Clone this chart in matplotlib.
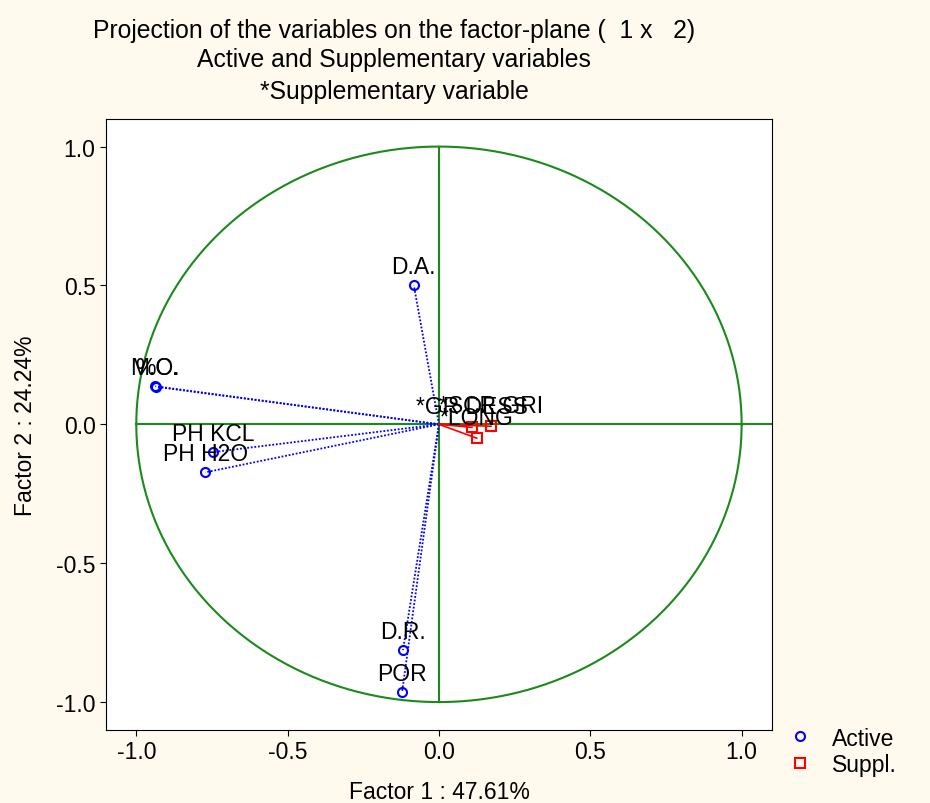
import matplotlib.pyplot as plt
import numpy as np

plt.rcParams['font.family'] = ['Liberation Sans', 'DejaVu Sans']

# active variables (factor 1, factor 2)
act_names = ['D.A.', 'M.O.', '%C.', 'PH KCL', 'PH H2O', 'D.R.', 'POR']
act_f1 = [-0.083, -0.937, -0.934, -0.746, -0.772, -0.119, -0.122]
act_f2 = [0.500, 0.137, 0.135, -0.100, -0.173, -0.813, -0.965]

# supplementary variables
sup_names = ['*GR DESS', '*SCR GRI', '*LONG']
sup_f1 = [0.109, 0.172, 0.125]
sup_f2 = [-0.011, -0.007, -0.050]

fig = plt.figure(figsize=(9.3, 8.04), dpi=100, facecolor='#fff9ee')
ax = fig.add_axes([0.114, 0.091, 0.716, 0.760])
ax.set_facecolor('white')

# unit circle and axes through origin
t = np.linspace(0, 2 * np.pi, 400)
ax.plot(np.cos(t), np.sin(t), color='#1a8a1a', lw=1.5, zorder=1)
ax.plot([-1, 1.1], [0, 0], color='#1a8a1a', lw=1.5, zorder=1)
ax.plot([0, 0], [-1, 1], color='#1a8a1a', lw=1.5, zorder=1)

for name, x, y in zip(act_names, act_f1, act_f2):
    ax.plot([0, x], [0, y], color='blue', lw=1.3, ls=(0, (1, 1)), zorder=2)
    ax.text(x, y + 0.068, name, ha='center', va='center', fontsize=16.5, zorder=4)
ax.plot(act_f1, act_f2, 'o', ms=6.5, mfc='none', mec='blue', mew=1.5,
        ls='none', zorder=3, label='Active')

for name, x, y in zip(sup_names, sup_f1, sup_f2):
    ax.plot([0, x], [0, y], color='red', lw=1.2, zorder=2)
    ax.text(x, y + 0.075, name, ha='center', va='center', fontsize=16.5, zorder=4)
ax.plot(sup_f1, sup_f2, 's', ms=7.5, mfc='none', mec='red', mew=1.5,
        ls='none', zorder=3, label='Suppl.')

ax.set_xlim(-1.1, 1.1)
ax.set_ylim(-1.1, 1.1)
ax.set_xticks([-1.0, -0.5, 0.0, 0.5, 1.0])
ax.set_yticks([-1.0, -0.5, 0.0, 0.5, 1.0])
ax.set_xticklabels(['-1.0', '-0.5', '0.0', '0.5', '1.0'])
ax.set_yticklabels(['-1.0', '-0.5', '0.0', '0.5', '1.0'])
ax.tick_params(labelsize=16.5, direction='out', length=4)
for s in ax.spines.values():
    s.set_linewidth(0.8)

ax.set_xlabel('Factor 1 : 47.61%', fontsize=16.5, labelpad=12)
ax.set_ylabel('Factor 2 : 24.24%', fontsize=16.5, labelpad=14)

fig.text(0.424, 0.962, 'Projection of the variables on the factor-plane (  1 x   2)',
         ha='center', va='center', fontsize=17.8)
fig.text(0.424, 0.925, 'Active and Supplementary variables',
         ha='center', va='center', fontsize=17.8)
fig.text(0.424, 0.886, '*Supplementary variable',
         ha='center', va='center', fontsize=17.8)

fig.legend(loc='lower left', bbox_to_anchor=(0.823, 0.008), frameon=False,
           fontsize=16.5, handletextpad=0.8, handlelength=1.2, labelspacing=0.15)

fig.savefig('out.png', dpi=100, facecolor=fig.get_facecolor())
